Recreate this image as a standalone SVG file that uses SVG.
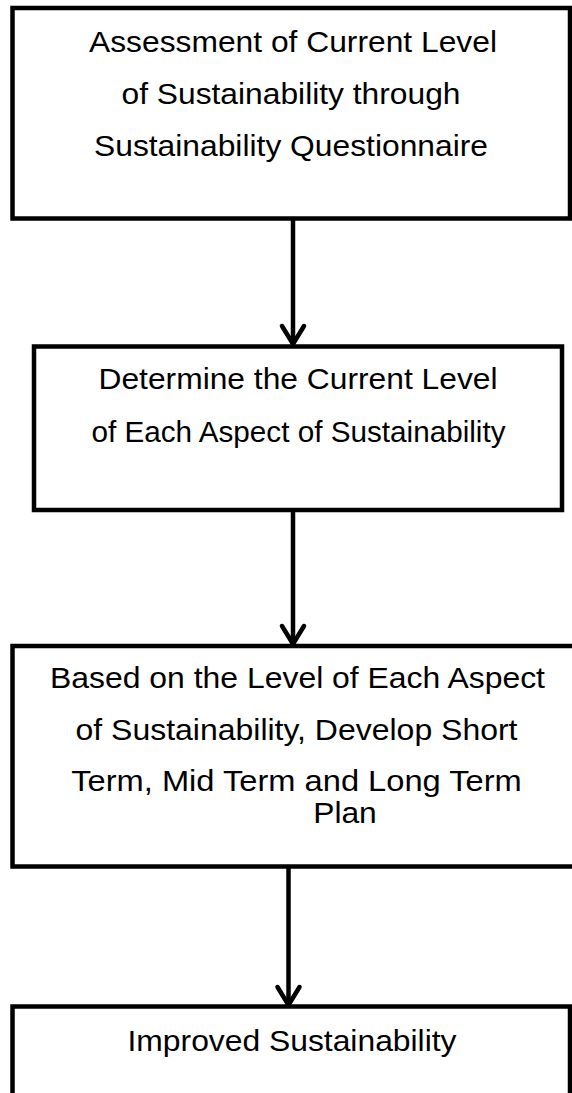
<svg xmlns="http://www.w3.org/2000/svg" width="572" height="1093" viewBox="0 0 572 1093">
  <style>
    .box { fill: #ffffff; stroke: #000000; stroke-width: 4.5; }
    .label { font-family: "Liberation Sans", Arial, sans-serif; font-size: 29.5px; fill: #000000; text-anchor: middle; }
    .flow { stroke: #000000; stroke-width: 4.5; fill: none; }
  </style>
  <defs>
    <marker id="chevron" markerUnits="userSpaceOnUse" markerWidth="30" markerHeight="30" refX="0" refY="0" orient="auto" overflow="visible">
      <path d="M-18,-11 L0,0 L-18,11" fill="none" stroke="#000000" stroke-width="4.5" stroke-linejoin="round" stroke-linecap="round"/>
    </marker>
  </defs>
  <rect width="572" height="1093" fill="#ffffff"/>

  <g id="connectors">
    <line class="flow" x1="293" y1="218" x2="293" y2="344" marker-end="url(#chevron)"/>
    <line class="flow" x1="293" y1="510" x2="293" y2="644" marker-end="url(#chevron)"/>
    <line class="flow" x1="288.5" y1="867" x2="288.5" y2="1005" marker-end="url(#chevron)"/>
  </g>

  <g id="assessment">
    <rect class="box" x="12.5" y="8" width="557.5" height="210.5"/>
    <text class="label" x="293" y="52" textLength="408" lengthAdjust="spacingAndGlyphs">Assessment of Current Level</text>
    <text class="label" x="291" y="104" textLength="339" lengthAdjust="spacingAndGlyphs">of Sustainability through</text>
    <text class="label" x="291" y="156" textLength="394" lengthAdjust="spacingAndGlyphs">Sustainability Questionnaire</text>
  </g>

  <g id="determine">
    <rect class="box" x="34" y="346.5" width="528" height="163.5"/>
    <text class="label" x="298" y="389" textLength="399" lengthAdjust="spacingAndGlyphs">Determine the Current Level</text>
    <text class="label" x="298.5" y="442" textLength="414" lengthAdjust="spacingAndGlyphs">of Each Aspect of Sustainability</text>
  </g>

  <g id="plan">
    <rect class="box" x="12.5" y="646" width="566" height="220.5"/>
    <text class="label" x="297.5" y="688" textLength="495" lengthAdjust="spacingAndGlyphs">Based on the Level of Each Aspect</text>
    <text class="label" x="296.5" y="740" textLength="442" lengthAdjust="spacingAndGlyphs">of Sustainability, Develop Short</text>
    <text class="label" x="296.5" y="791" textLength="450.6" lengthAdjust="spacingAndGlyphs">Term, Mid Term and Long Term</text>
    <text class="label" x="345" y="823" textLength="63.6" lengthAdjust="spacingAndGlyphs">Plan</text>
  </g>

  <g id="improved">
    <rect class="box" x="12.5" y="1006.5" width="557.5" height="100"/>
    <text class="label" x="292" y="1051" textLength="329" lengthAdjust="spacingAndGlyphs">Improved Sustainability</text>
  </g>
</svg>
